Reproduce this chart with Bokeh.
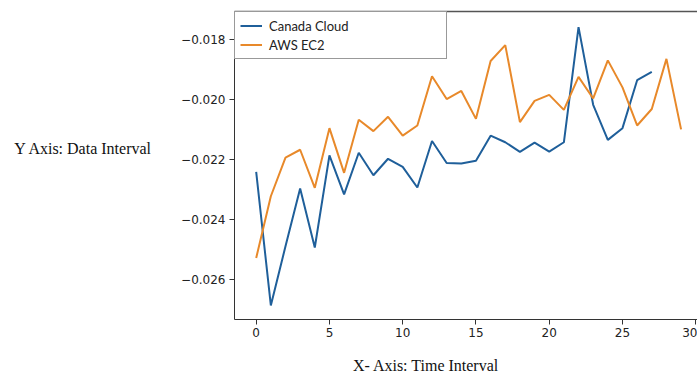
from bokeh.plotting import figure
from bokeh.embed import file_html
from bokeh.resources import INLINE
from bokeh.models import (Range1d, FixedTicker, CustomJSTickFormatter, LinearAxis,
                          Legend)

# ---- data ----
canada_x = list(range(28))
canada_y = [-0.02242, -0.02687, -0.02490, -0.02297, -0.02494, -0.02187, -0.02317,
            -0.02178, -0.02253, -0.02198, -0.02225, -0.02294, -0.02139, -0.02212,
            -0.02214, -0.02205, -0.02121, -0.02143, -0.02175, -0.02144, -0.02174,
            -0.02143, -0.01759, -0.02018, -0.02135, -0.02096, -0.01936, -0.01908]
aws_x = list(range(30))
aws_y = [-0.02529, -0.02323, -0.02194, -0.02168, -0.02295, -0.02096, -0.02245,
         -0.02068, -0.02106, -0.02058, -0.02121, -0.02087, -0.01923, -0.01999,
         -0.01972, -0.02065, -0.01872, -0.01819, -0.02076, -0.02005, -0.01985,
         -0.02035, -0.01925, -0.01997, -0.01870, -0.01960, -0.02087, -0.02032,
         -0.01865, -0.02100]
x_ticks = [0, 5, 10, 15, 20, 25, 30]
y_ticks = [-0.026, -0.024, -0.022, -0.020, -0.018]
series_names = ["Canada Cloud", "AWS EC2"]
x_title = "X- Axis: Time Interval"
y_title = "Y Axis: Data Interval"

# where the (horizontal) axis titles sit, in axis units
X_TITLE_AT = 11.6
Y_TITLE_AT = -0.02163

BLUE = "#1f5f9a"
ORANGE = "#e8892a"
SPINE = "#333333"
TXT = "#222222"

p = figure(width=697, height=376, output_backend="svg", toolbar_location=None,
           x_range=Range1d(-1.48, 30.12), y_range=Range1d(-0.02734, -0.01707),
           min_border_left=234, min_border_right=0, min_border_top=11,
           min_border_bottom=56)
p.outline_line_color = None
p.grid.visible = False
p.background_fill_color = "white"
p.border_fill_color = "white"

r1 = p.line(canada_x, canada_y, line_color=BLUE, line_width=2)
r2 = p.line(aws_x, aws_y, line_color=ORANGE, line_width=2)

for ax in (p.xaxis[0], p.yaxis[0]):
    ax.axis_line_color = SPINE
    ax.axis_line_width = 1
    ax.major_tick_line_color = SPINE
    ax.major_tick_out = 5
    ax.major_tick_in = 0
    ax.minor_tick_line_color = None
    ax.major_label_text_font = "DejaVu Sans"
    ax.major_label_text_font_size = "12px"
    ax.major_label_text_color = TXT

p.xaxis[0].ticker = FixedTicker(ticks=x_ticks)
p.xaxis[0].major_label_standoff = 3
p.yaxis[0].ticker = FixedTicker(ticks=y_ticks)
p.yaxis[0].major_label_standoff = 4
p.yaxis[0].formatter = CustomJSTickFormatter(
    code="return (tick < 0 ? '\\u2212' : '') + Math.abs(tick).toFixed(3);")

top = LinearAxis(ticker=FixedTicker(ticks=[]), axis_line_color="#555555",
                 axis_line_width=1.5, major_tick_line_color=None,
                 minor_tick_line_color=None, major_label_text_font_size="0px",
                 major_label_standoff=0, major_tick_out=0, major_tick_in=0)
p.add_layout(top, "above")


def title_axis(at, text, standoff):
    return LinearAxis(ticker=FixedTicker(ticks=[at]),
                      formatter=CustomJSTickFormatter(code="return %r;" % text),
                      axis_line_color=None, major_tick_line_color=None,
                      minor_tick_line_color=None, major_tick_out=0, major_tick_in=0,
                      major_label_standoff=standoff,
                      major_label_text_font="Liberation Serif",
                      major_label_text_font_size="16px",
                      major_label_text_color="#111111")


p.add_layout(title_axis(Y_TITLE_AT, y_title, 26), "left")
p.add_layout(title_axis(X_TITLE_AT, x_title, 17), "below")

legend = Legend(items=[(series_names[0], [r1]), (series_names[1], [r2])],
                location="top_left", margin=0, padding=5, spacing=2,
                glyph_width=22, glyph_height=17, label_height=17,
                label_width=172, label_standoff=7,
                label_text_font="Lato", label_text_font_size="13px",
                label_text_color=TXT, border_line_color=SPINE,
                border_line_width=1.2, background_fill_alpha=1.0)
p.add_layout(legend, "center")

open("out.html", "w").write(file_html(p, INLINE))
